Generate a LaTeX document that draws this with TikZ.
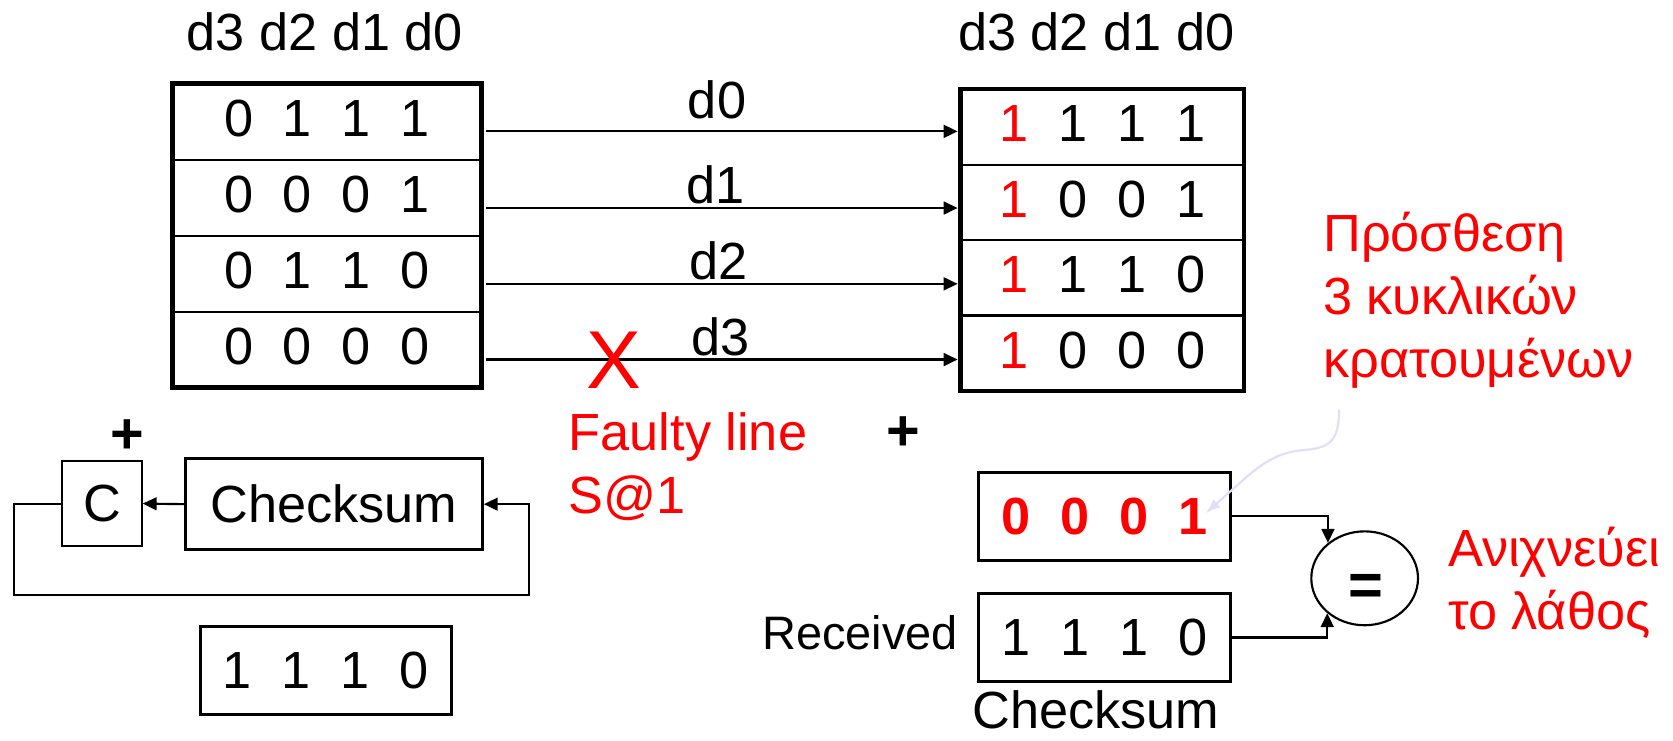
\documentclass[tikz,border=0pt]{standalone}
\usepackage{fontspec}
\setmainfont{Liberation Sans}
\usetikzlibrary{arrows.meta,shapes.geometric,calc}
\definecolor{lav}{RGB}{226,221,250}
\newcommand\bits[4]{#1\kern28pt#2\kern28pt#3\kern28pt#4}
\begin{document}
\begin{tikzpicture}[x=1pt,y=-1pt,
  txt/.style={inner sep=0pt, font=\fontsize{49}{59}\selectfont},
  redtxt/.style={txt, text=red},
  rowbox/.style={draw, line width=2pt, inner sep=0pt, outer sep=0pt, text depth=6pt, font=\fontsize{49}{59}\selectfont},
  box/.style={draw, line width=3pt, inner sep=0pt, font=\fontsize{49}{59}\selectfont},
  frame/.style={line width=4.5pt},
  arr/.style={line width=2pt, -{Triangle[length=13pt,width=12pt]}},
  plus/.style={inner sep=0pt, font=\fontsize{54}{60}\selectfont\bfseries}
]
\useasboundingbox (0,0) rectangle (1568,694);
\fill[white] (0,0) rectangle (1568,694);

% headers
\node[txt, anchor=base] (hl) at (304.5,47) {d3 d2 d1 d0};
\node[txt, anchor=base] (hr) at (1027.5,47) {d3 d2 d1 d0};

% left table
\node[rowbox, minimum width=289pt, minimum height=71.25pt] (L1) at (306.5,114.125) {\bits0111};
\node[rowbox, minimum width=289pt, minimum height=71.25pt] (L2) at (306.5,185.375) {\bits0001};
\node[rowbox, minimum width=289pt, minimum height=71.25pt] (L3) at (306.5,256.625) {\bits0110};
\node[rowbox, minimum width=289pt, minimum height=71.25pt] (L4) at (306.5,327.875) {\bits0000};
\draw[frame] (L1.north west) rectangle (L4.south east);

% right table
\node[rowbox, minimum width=266pt, minimum height=70.75pt] (R1) at (1033,118.875) {\bits{\textcolor{red}{1}}111};
\node[rowbox, minimum width=266pt, minimum height=70.75pt] (R2) at (1033,189.625) {\bits{\textcolor{red}{1}}001};
\node[rowbox, minimum width=266pt, minimum height=70.75pt] (R3) at (1033,260.375) {\bits{\textcolor{red}{1}}110};
\node[rowbox, minimum width=266pt, minimum height=70.75pt] (R4) at (1033,331.125) {\bits{\textcolor{red}{1}}000};
\draw[frame] (R1.north west) rectangle (R4.south east);

% lines d0..d3
\draw[arr] ($(L1.east)+(4.5,9)$) -- ($(L1.east -| R1.west)+(-2.5,9)$);
\draw[arr] ($(L2.east)+(4.5,9.6)$) -- ($(L2.east -| R2.west)+(-2.5,9.6)$);
\draw[arr] ($(L3.east)+(4.5,9.4)$) -- ($(L3.east -| R3.west)+(-2.5,9.4)$);
\draw[arr] ($(L4.east)+(4.5,9.1)$) -- ($(L4.east -| R4.west)+(-2.5,9.1)$);
\node[txt, anchor=base] (ld0) at (672,111.5) {d0};
\node[txt, anchor=base] (ld1) at (671,190.5) {d1};
\node[txt, anchor=base] (ld2) at (673,261.5) {d2};
\node[txt, anchor=base] (ld3) at (675,333.5) {d3};

% fault
\node[inner sep=0pt, text=red, font=\fontsize{77}{80}\selectfont, anchor=base] (xx) at (575,364.5) {X};
\node[redtxt, anchor=base west] (f1) at (533,422) {Faulty line};
\node[redtxt, anchor=base west] (f2) at (533,481) {S@1};

% greek note
\node[redtxt, anchor=base west] (g1) at (1240,236) {Πρόσθεση};
\node[redtxt, anchor=base west] (g2) at (1240,295) {3 κυκλικών};
\node[redtxt, anchor=base west] (g3) at (1240,354) {κρατουμένων};

% plus signs
\node[plus] (p1) at (119,409) {+};
\node[plus] (p2) at (847,406) {+};

% sender checksum
\node[draw, line width=1.5pt, inner sep=0pt, minimum width=75pt, minimum height=80pt, font=\fontsize{49}{59}\selectfont] (C) at (95.5,472) {C};
\node[box, minimum width=278pt, minimum height=85pt] (cs) at (313,472.5) {Checksum};
\draw[arr] (cs.west) -- (C.east);
\coordinate (fbA) at (13,558);
\coordinate (fbB) at (496,558);
\draw[arr] (C.west) -| (fbA) -- (fbB) |- (cs.east);
\node[box, minimum width=235pt, minimum height=83pt] (bb) at (305.5,628.5) {\bits1110};

% receiver side
\node[box, minimum width=236pt, minimum height=82pt, text=red, font=\fontsize{49}{59}\selectfont\bfseries] (zs) at (1035,484) {\bits0001};
\node[box, minimum width=236pt, minimum height=83pt] (rc) at (1035,597.5) {\bits1110};
\node[inner sep=0pt, font=\fontsize{44}{50}\selectfont, anchor=base east] (rl) at (898,609) {Received};
\node[txt, anchor=base] (cl) at (1027,683) {Checksum};

\node[draw, ellipse, line width=2pt, minimum width=100pt, minimum height=88pt, inner sep=0pt] (eq) at (1279,542) {};
\node[inner sep=0pt, font=\fontsize{56}{60}\selectfont\bfseries] (eqs) at (1280,553) {=};
\draw[arr] (zs.east) -| (eq.136.7);
\draw[arr] (rc.east) -| (eq.223.3);

\node[redtxt, anchor=base west] (a1) at (1357,531) {Ανιχνεύει};
\node[redtxt, anchor=base west] (a2) at (1357,590) {το λάθος};

% callout arrow
\coordinate (callA) at (1255,384);
\coordinate (callB) at (1130,481);
\draw[lav, line width=2pt, -{Latex[length=14pt,width=10pt]}] (callA) .. controls (1255,415) and (1245,420) .. (1220,422) .. controls (1200,424) and (1185,432) .. (1165,450) -- (callB);
\end{tikzpicture}
\end{document}
